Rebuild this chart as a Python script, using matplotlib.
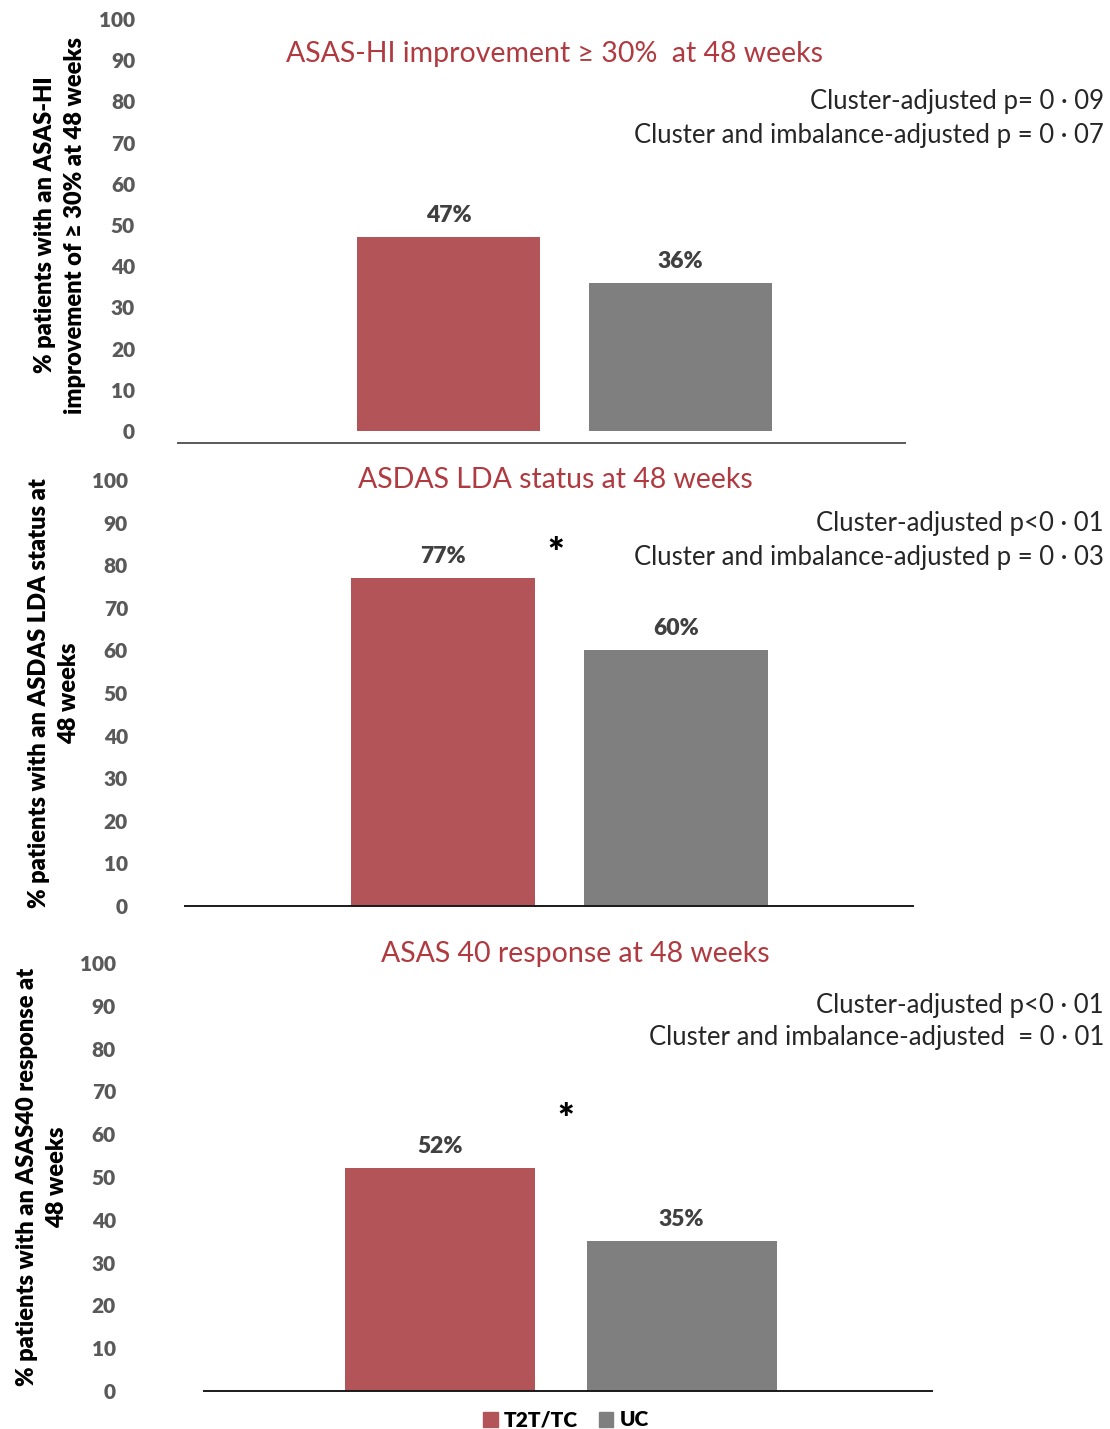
import matplotlib
matplotlib.use("Agg")
import matplotlib.pyplot as plt
from matplotlib.patches import Patch

plt.rcParams['font.family'] = ['Lato', 'DejaVu Sans']

# data
groups = ["T2T/TC", "UC"]
asas_hi = [47, 36]
asdas_lda = [77, 60]
asas40 = [52, 35]

titles = ["ASAS-HI improvement \u2265 30%  at 48 weeks",
          "ASDAS LDA status at 48 weeks",
          "ASAS 40 response at 48 weeks"]
ylabels = ["% patients with an ASAS-HI\nimprovement of \u2265 30% at 48 weeks",
           "% patients with an ASDAS LDA status at\n48 weeks",
           "% patients with an ASAS40 response at\n48 weeks"]
pvals = [["Cluster-adjusted p= 0 \u00b7 09", "Cluster and imbalance-adjusted p = 0 \u00b7 07"],
         ["Cluster-adjusted p<0 \u00b7 01", "Cluster and imbalance-adjusted p = 0 \u00b7 03"],
         ["Cluster-adjusted p<0 \u00b7 01", "Cluster and imbalance-adjusted  = 0 \u00b7 01"]]
significant = [False, True, True]
yticks = list(range(0, 101, 10))

RED = "#b35459"
GRAY = "#7f7f7f"
TITLE_RED = "#b03a40"
TICK_GRAY = "#595959"
W, H = 1110, 1429

fig = plt.figure(figsize=(W / 100, H / 100), dpi=100)


def px_axes(left, right, top, bottom):
    return fig.add_axes([left / W, 1 - bottom / H, (right - left) / W, (bottom - top) / H])


# layout per panel: axis x range, pixel of 0, pixel of 100, pixel of base line,
# bar centers/width (px), tick label right edge, ylabel x, title pos, p text y, star pos
panels = [
    dict(x0=178, x1=905, y0=431, y100=19, line=443, c=(448.5, 680), bw=183,
         tick_right=135, ylab_x=60, title=(555, 54), py=(102, 136), star=None),
    dict(x0=185, x1=913, y0=906, y100=480, line=906, c=(443, 676.5), bw=184,
         tick_right=128, ylab_x=54, title=(555, 480), py=(524, 558), star=(556, 555)),
    dict(x0=204, x1=932, y0=1391, y100=963, line=1391, c=(440, 681.5), bw=190,
         tick_right=116, ylab_x=42, title=(575, 954), py=(1005, 1038), star=(566, 1121)),
]
datasets = [asas_hi, asdas_lda, asas40]

for i, (p, vals) in enumerate(zip(panels, datasets)):
    scale = (p['y0'] - p['y100']) / 100.0
    ymin = -(p['line'] - p['y0']) / scale
    ax = px_axes(p['x0'], p['x1'], p['y100'], p['line'])
    ax.set_xlim(p['x0'], p['x1'])
    ax.set_ylim(ymin, 100)
    bars = ax.bar(p['c'], vals, width=p['bw'], color=[RED, GRAY])
    for b, v in zip(bars, vals):
        ax.annotate(f"{v}%", (b.get_x() + b.get_width() / 2, v), xytext=(0, 8),
                    textcoords='offset points', ha='center', va='bottom',
                    fontsize=16.5, fontweight='heavy', color='#404040')
    for s in ['top', 'right', 'left']:
        ax.spines[s].set_visible(False)
    ax.spines['bottom'].set_color('#595959' if i == 0 else '#1a1a1a')
    ax.spines['bottom'].set_linewidth(1.4)
    ax.set_xticks([])
    ax.set_yticks(yticks)
    ax.tick_params(axis='y', length=0, pad=(p['x0'] - p['tick_right']) * 0.72,
                   labelsize=15, labelcolor=TICK_GRAY)
    for lab in ax.get_yticklabels():
        lab.set_fontweight('heavy')

    fig.text(p['ylab_x'] / W, 1 - (p['y100'] + p['y0']) / 2 / H, ylabels[i],
             rotation=90, ha='center', va='center', fontsize=17, fontweight='heavy',
             linespacing=1.4)
    fig.text(p['title'][0] / W, 1 - p['title'][1] / H, titles[i], ha='center',
             va='center', fontsize=20.5, color=TITLE_RED)
    for t, yy in zip(pvals[i], p['py']):
        fig.text(1104 / W, 1 - yy / H, t, ha='right', va='center', fontsize=18.5,
                 color='#262626')
    if significant[i]:
        fig.text(p['star'][0] / W, 1 - p['star'][1] / H, "*", ha='center',
                 va='center', fontsize=28, fontweight='heavy', color='black')

handles = [Patch(color=RED, label=groups[0]), Patch(color=GRAY, label=groups[1])]
fig.legend(handles=handles, loc='center', bbox_to_anchor=(566 / W, 1 - 1420 / H),
           ncol=2, frameon=False, handlelength=0.7, handleheight=0.7,
           handletextpad=0.3, columnspacing=1.0,
           prop={'weight': 'heavy', 'size': 15})

fig.savefig("out.png", dpi=100)
